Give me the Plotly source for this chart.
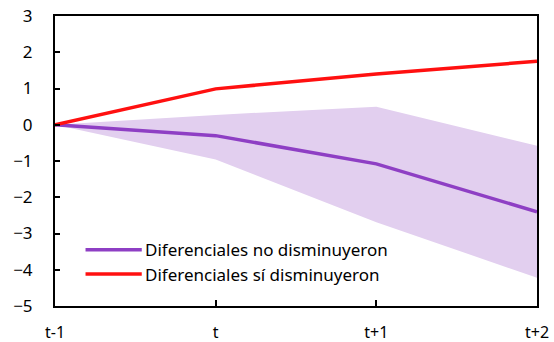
import plotly.graph_objects as go

# Periods around the event
periods = ["t-1", "t", "t+1", "t+2"]
x_pos = [0, 1, 2, 3]

# Series values
no_disminuyeron = [0.0, -0.30, -1.08, -2.40]
si_disminuyeron = [0.0, 0.99, 1.40, 1.75]

# Confidence band for the "no disminuyeron" group
banda_sup = [0.0, 0.27, 0.50, -0.58]
banda_inf = [0.0, -0.96, -2.69, -4.22]

y_ticks = [3, 2, 1, 0, -1, -2, -3, -4, -5]

PURPLE = "#8E3FC4"
BAND = "#E2CFEF"
RED = "#FF1010"
FONT = "Noto Sans"

fig = go.Figure()

fig.add_trace(go.Scatter(x=x_pos, y=banda_sup, mode="lines",
                         line=dict(width=0, color=BAND), showlegend=False,
                         hoverinfo="skip"))
fig.add_trace(go.Scatter(x=x_pos, y=banda_inf, mode="lines",
                         line=dict(width=0, color=BAND), fill="tonexty",
                         fillcolor=BAND, showlegend=False, hoverinfo="skip"))
fig.add_trace(go.Scatter(x=x_pos, y=no_disminuyeron, mode="lines",
                         line=dict(width=3.5, color=PURPLE),
                         name="Diferenciales no disminuyeron", showlegend=False))
fig.add_trace(go.Scatter(x=x_pos, y=si_disminuyeron, mode="lines",
                         line=dict(width=3.5, color=RED),
                         name="Diferenciales sí disminuyeron", showlegend=False))

# Hand-drawn legend inside the lower-left corner
legend_items = [("Diferenciales no disminuyeron", PURPLE, -3.45),
                ("Diferenciales sí disminuyeron", RED, -4.12)]
for label, color, yv in legend_items:
    fig.add_shape(type="line", xref="x", yref="y",
                  x0=0.19, x1=0.54, y0=yv, y1=yv,
                  line=dict(color=color, width=3.5))
    fig.add_annotation(x=0.545, y=yv, xref="x", yref="y", text=label,
                       showarrow=False, xanchor="left", yanchor="middle",
                       font=dict(family=FONT, size=17, color="#000000"))

fig.update_xaxes(range=[0, 3], tickvals=x_pos, ticktext=periods,
                 showline=True, linecolor="#000000", linewidth=2, mirror=True,
                 ticks="inside", ticklen=6, tickwidth=2, tickcolor="#000000",
                 showgrid=False, zeroline=False, ticklabelstandoff=11,
                 automargin=False,
                 tickfont=dict(family=FONT, size=16, color="#000000"))
fig.update_yaxes(range=[-5, 3], tickvals=y_ticks,
                 showline=True, linecolor="#000000", linewidth=2, mirror=True,
                 ticks="inside", ticklen=5, tickwidth=2, tickcolor="#000000",
                 showgrid=False, zeroline=False, ticklabelstandoff=17,
                 automargin=False,
                 tickfont=dict(family=FONT, size=17, color="#000000"))

fig.update_layout(width=554, height=342,
                  margin=dict(l=55, r=17, t=16, b=36),
                  plot_bgcolor="#FFFFFF", paper_bgcolor="#FFFFFF",
                  showlegend=False)

fig.write_html("out.html")
